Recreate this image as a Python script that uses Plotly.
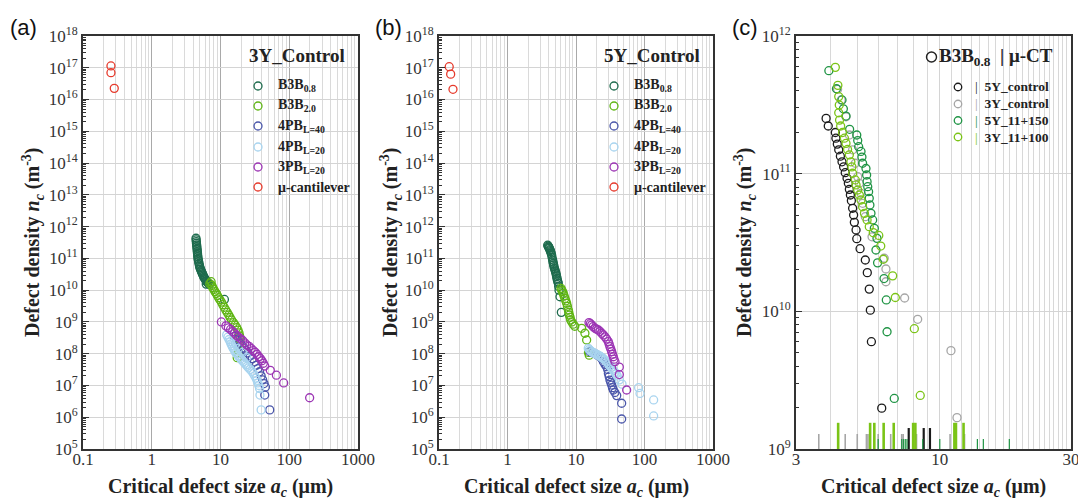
import math
import plotly.graph_objects as go

W, H = 1078, 500

# ---------------- panel (a): 3Y_Control ----------------
a_b3b08_x = [4.40, 4.42, 4.45, 4.47, 4.50, 4.52, 4.55, 4.58, 4.60, 4.63, 4.65, 4.68, 4.71, 4.76,
             4.81, 4.86, 4.92, 4.97, 5.03, 5.11, 5.20, 5.29, 5.38, 5.47, 5.57, 5.66, 5.75, 5.88,
             6.02, 6.15, 6.29, 6.43, 6.58, 6.88, 6.20, 11.4]
a_b3b08_y = [4.3e11, 3.8e11, 3.36e11, 3.0e11, 2.64e11, 2.35e11, 2.07e11, 1.84e11, 1.63e11, 1.45e11,
             1.28e11, 1.13e11, 1.0e11, 8.9e10, 7.9e10, 7.0e10, 6.2e10, 5.6e10, 5.1e10, 4.6e10,
             4.2e10, 3.85e10, 3.55e10, 3.25e10, 3.0e10, 2.75e10, 2.5e10, 2.35e10, 2.19e10, 2.0e10,
             1.89e10, 1.78e10, 1.68e10, 1.52e10, 1.55e10, 5.1e9]

a_b3b20_x = [7.3, 7.0, 7.5, 7.7, 8.0, 8.3, 8.7, 9.0, 9.4, 9.8, 10.3, 10.8, 11.3, 11.9, 12.5, 13.2,
             13.8, 14.5, 15.4, 16.3, 17.2, 18.0, 18.6, 19.0, 19.2, 19.0, 18.6, 18.2, 17.5]
a_b3b20_y = [1.85e10, 1.6e10, 1.4e10, 1.2e10, 1.05e10, 9.0e9, 7.8e9, 6.8e9, 5.8e9, 5.0e9, 4.2e9,
             3.5e9, 2.9e9, 2.4e9, 2.0e9, 1.65e9, 1.38e9, 1.15e9, 9.5e8, 8.0e8, 6.6e8, 5.5e8, 4.5e8,
             3.6e8, 2.8e8, 2.1e8, 1.5e8, 1.05e8, 7.5e7]

a_4pb40_x = [16, 17.5, 19, 20.5, 22, 23.5, 25, 27, 29, 31, 33, 35, 37, 39, 41, 43, 45, 44, 52]
a_4pb40_y = [3.5e8, 2.8e8, 2.2e8, 1.8e8, 1.5e8, 1.25e8, 1.05e8, 8.5e7, 7.0e7, 5.5e7, 4.3e7, 3.4e7,
             2.7e7, 2.0e7, 1.5e7, 1.15e7, 9.0e6, 5.0e6, 1.7e6]

a_4pb20_x = [12.3, 12.8, 13.3, 13.8, 14.2, 14.6, 15.0, 15.5, 16.0, 16.6, 17.2, 18.0, 18.8, 19.6,
             20.5, 21.5, 22.5, 23.5, 24.5, 25.5, 27, 28.5, 30, 31.5, 33, 34, 35, 36, 37, 37.5, 39,
             16.5, 18.5, 21, 24]
a_4pb20_y = [3.9e8, 3.3e8, 2.8e8, 2.4e8, 2.05e8, 1.8e8, 1.6e8, 1.4e8, 1.25e8, 1.1e8, 9.8e7, 8.7e7,
             7.7e7, 6.9e7, 6.2e7, 5.6e7, 5.0e7, 4.5e7, 4.0e7, 3.6e7, 3.2e7, 2.8e7, 2.4e7, 2.0e7,
             1.7e7, 1.45e7, 1.2e7, 1.0e7, 8.0e6, 5.0e6, 1.7e6, 2.0e8, 1.5e8, 1.1e8, 7.5e7]

a_3pb20_x = [10.3, 12.0, 13.0, 14.0, 15.0, 16.0, 17.0, 18.0, 19.5, 21, 22.5, 24, 26, 28, 30, 32,
             34, 36, 38, 40, 42, 44, 53, 65, 83, 198]
a_3pb20_y = [1.0e9, 7.5e8, 6.5e8, 5.8e8, 5.0e8, 4.4e8, 3.8e8, 3.4e8, 3.0e8, 2.6e8, 2.2e8, 1.9e8,
             1.7e8, 1.45e8, 1.25e8, 1.1e8, 9.5e7, 8.0e7, 7.0e7, 6.0e7, 5.0e7, 4.1e7, 3.0e7, 2.1e7,
             1.2e7, 4.1e6]

a_cant_x = [0.255, 0.255, 0.285]
a_cant_y = [1.14e17, 7.0e16, 2.25e16]

# ---------------- panel (b): 5Y_Control ----------------
b_b3b08_x = [3.86, 3.92, 3.97, 4.03, 4.08, 4.15, 4.21, 4.27, 4.34, 4.41, 4.48, 4.56, 4.61, 4.67,
             4.72, 4.77, 4.85, 4.94, 5.02, 5.10, 5.16, 5.22, 5.28, 5.34, 5.43, 5.52, 5.58, 5.65,
             5.84, 6.11]
b_b3b08_y = [2.6e11, 2.45e11, 2.3e11, 2.2e11, 2.07e11, 1.9e11, 1.75e11, 1.63e11, 1.45e11, 1.28e11,
             1.07e11, 8.9e10, 7.8e10, 6.9e10, 6.2e10, 5.5e10, 4.8e10, 4.3e10, 3.8e10, 3.4e10,
             3.0e10, 2.66e10, 2.35e10, 2.09e10, 1.85e10, 1.64e10, 1.3e10, 1.0e10, 6.2e9, 2.0e9]

b_b3b20_x = [6.04, 6.2, 6.35, 6.53, 6.7, 6.9, 7.1, 7.31, 7.5, 7.73, 7.85, 8.0, 8.2, 8.36, 8.7,
             9.1, 9.6, 12.1, 13.5, 14.3, 15.6, 15.2]
b_b3b20_y = [1.14e10, 1.0e10, 9.0e9, 7.9e9, 6.6e9, 5.5e9, 4.6e9, 3.85e9, 3.1e9, 2.37e9, 2.0e9,
             1.65e9, 1.4e9, 1.15e9, 1.0e9, 8.5e8, 7.3e8, 6.3e8, 4.4e8, 2.7e8, 9.0e7, 1.1e8]

b_4pb40_x = [16.0, 17.5, 19.0, 20.5, 22.4, 23.8, 25.1, 26.5, 28.0, 29.0, 29.7, 30.5, 31.3, 32.2,
             33.2, 34.1, 35.1, 37.0, 39.3, 46.4, 46.4]
b_4pb40_y = [1.16e8, 1.08e8, 1.0e8, 9.0e7, 8.0e7, 7.0e7, 5.6e7, 4.6e7, 3.9e7, 3.2e7, 2.4e7, 1.9e7,
             1.48e7, 1.25e7, 1.03e7, 8.5e6, 7.2e6, 6.0e6, 4.8e6, 2.75e6, 8.8e5]

b_4pb20_x = [15.1, 15.6, 16.2, 17.0, 17.5, 18.3, 19.0, 20.0, 21.0, 22.0, 23.0, 24.0, 25.0, 26.5,
             28.0, 29.5, 31.0, 32.5, 34.0, 35.5, 37.0, 38.5, 40.0, 43.0, 47.0, 82.0, 86.0, 136.0,
             136.0]
b_4pb20_y = [1.47e8, 1.35e8, 1.25e8, 1.15e8, 1.1e8, 1.05e8, 1.0e8, 9.5e7, 9.0e7, 8.5e7, 8.0e7,
             7.5e7, 7.0e7, 6.2e7, 5.5e7, 4.8e7, 4.2e7, 3.7e7, 3.3e7, 2.9e7, 2.6e7, 2.3e7, 2.0e7,
             1.5e7, 1.1e7, 8.5e6, 5.6e6, 3.5e6, 1.1e6]

b_3pb20_x = [15.5, 16.2, 16.9, 17.8, 18.9, 20.0, 21.2, 22.4, 23.7, 25.0, 26.5, 28.0, 29.6, 30.5,
             31.3, 32.2, 33.2, 34.1, 35.1, 35.9, 37.1, 42.9, 42.9, 54.9]
b_3pb20_y = [9.5e8, 8.8e8, 8.0e8, 7.1e8, 6.3e8, 5.9e8, 5.6e8, 5.0e8, 4.4e8, 3.9e8, 3.4e8, 2.9e8,
             2.4e8, 2.0e8, 1.66e8, 1.4e8, 1.16e8, 9.6e7, 8.0e7, 6.7e7, 5.6e7, 3.8e7, 2.2e7, 7.2e6]

b_cant_x = [0.141, 0.148, 0.160]
b_cant_y = [1.08e17, 6.3e16, 2.1e16]

# ---------------- panel (c): B3B0.8 vs micro-CT ----------------
c_5y_ctrl_x = [3.86, 3.93, 4.17, 4.19, 4.24, 4.29, 4.35, 4.41, 4.47, 4.53, 4.60, 4.65, 4.69, 4.73,
               4.77, 4.82, 4.86, 4.89, 4.96, 4.99, 5.13, 5.36, 5.45, 5.54, 5.59, 5.64, 6.15]
c_5y_ctrl_y = [2.52e11, 2.22e11, 1.99e11, 1.81e11, 1.64e11, 1.49e11, 1.34e11, 1.22e11, 1.12e11,
               1.016e11, 9.25e10, 8.51e10, 7.69e10, 7.0e10, 6.37e10, 5.6e10, 5.01e10, 4.43e10,
               3.9e10, 3.37e10, 2.85e10, 2.36e10, 1.91e10, 1.45e10, 1.02e10, 6.02e9, 1.98e9]

c_3y_ctrl_x = [4.25, 4.38, 4.56, 4.69, 4.82, 4.93, 5.03, 5.10, 5.17, 5.24, 5.36, 5.67, 6.28, 6.37,
               6.37, 7.45, 8.31, 10.98, 11.55]
c_3y_ctrl_y = [4.10e11, 3.43e11, 2.59e11, 1.91e11, 1.49e11, 1.19e11, 9.51e10, 8.51e10, 7.20e10,
               6.09e10, 4.87e10, 3.48e10, 2.43e10, 2.03e10, 1.64e10, 1.25e10, 8.75e9, 5.18e9, 1.69e9]

c_5y_150_x = [3.95, 4.21, 4.41, 4.46, 4.56, 4.70, 4.99, 5.03, 5.07, 5.17, 5.21, 5.24, 5.39, 5.42,
              5.44, 5.47, 5.51, 5.54, 5.57, 5.62, 5.70, 5.78, 5.91, 5.86, 5.94, 6.27, 6.39, 6.43, 6.83]
c_5y_150_y = [5.60e11, 4.14e11, 3.43e11, 2.96e11, 2.62e11, 2.10e11, 1.91e11, 1.74e11, 1.57e11,
              1.45e11, 1.32e11, 1.19e11, 1.09e11, 9.78e10, 8.75e10, 8.04e10, 7.40e10, 6.62e10,
              5.92e10, 5.15e10, 4.61e10, 4.01e10, 3.39e10, 2.79e10, 2.25e10, 1.73e10, 1.21e10,
              7.11e9, 2.33e9]

c_3y_100_x = [4.17, 4.26, 4.29, 4.31, 4.29, 4.32, 4.36, 4.43, 4.50, 4.56, 4.62, 4.69, 4.75, 4.79,
              4.82, 4.93, 4.96, 5.03, 5.10, 5.17, 5.24, 5.32, 5.44, 5.54, 5.73, 6.00, 6.10, 6.23,
              6.74, 6.89, 8.08, 8.49]
c_3y_100_y = [5.92e11, 4.38e11, 3.63e11, 3.15e11, 2.77e11, 2.45e11, 2.22e11, 1.99e11, 1.81e11,
              1.66e11, 1.50e11, 1.37e11, 1.22e11, 1.12e11, 1.007e11, 9.0e10, 8.28e10, 7.61e10,
              7.0e10, 6.44e10, 5.75e10, 5.15e10, 4.61e10, 4.12e10, 3.73e10, 3.56e10, 2.98e10,
              2.39e10, 1.81e10, 1.26e10, 7.48e9, 2.45e9]

# micro-CT defect sizes (rug marks along the bottom of panel c)
ct_5y_ctrl = [7.71, 8.74, 9.21]
ct_3y_ctrl = [3.63, 4.53, 5.01, 5.41, 5.48, 5.97, 6.63, 7.27, 7.36, 8.23, 10.9, 12.3]
ct_5y_150 = [5.97, 7.27, 7.38, 7.49, 7.60, 8.67, 10.0, 13.7, 14.4, 17.9]
ct_3y_100 = [4.27, 5.58, 5.78, 6.25, 6.80, 8.00, 8.15, 11.3, 11.45, 12.2]

# tick labels
x_ab_ticks = [0.1, 1, 10, 100, 1000]
x_ab_labels = ["0.1", "1", "10", "100", "1000"]
x_c_ticks = [3, 10, 30]
x_c_labels = ["3", "10", "30"]

# ---------------- styling ----------------
SERIF = "Liberation Serif, Times New Roman, serif"
SANS = "Liberation Sans, Arial, sans-serif"
C_B3B08 = "#1e6b4d"
C_B3B20 = "#5fb514"
C_4PB40 = "#4a56aa"
C_4PB20 = "#a8d4ef"
C_3PB20 = "#9c35b4"
C_CANT = "#e63a2c"
C_5YC = "#1a1a1a"
C_3YC = "#a6a6a6"
C_5Y150 = "#1f9444"
C_3Y100 = "#7bc417"

AX_LINE = "#333333"


def fx(px):
    return px / W


def fy(py):
    return 1 - py / H


fig = go.Figure()


def add_points(x, y, color, xa, ya, size=8):
    fig.add_trace(go.Scatter(
        x=x, y=y, mode="markers", xaxis=xa, yaxis=ya, showlegend=False,
        marker=dict(symbol="circle-open", size=size, color=color, line=dict(width=1.3)),
        cliponaxis=False,
    ))


for xa, ya, series in [
    ("x", "y", [(a_b3b08_x, a_b3b08_y, C_B3B08), (a_b3b20_x, a_b3b20_y, C_B3B20),
                (a_4pb40_x, a_4pb40_y, C_4PB40), (a_4pb20_x, a_4pb20_y, C_4PB20),
                (a_3pb20_x, a_3pb20_y, C_3PB20), (a_cant_x, a_cant_y, C_CANT)]),
    ("x2", "y2", [(b_b3b08_x, b_b3b08_y, C_B3B08), (b_b3b20_x, b_b3b20_y, C_B3B20),
                  (b_4pb40_x, b_4pb40_y, C_4PB40), (b_4pb20_x, b_4pb20_y, C_4PB20),
                  (b_3pb20_x, b_3pb20_y, C_3PB20), (b_cant_x, b_cant_y, C_CANT)]),
]:
    for sx, sy, col in series:
        add_points(sx, sy, col, xa, ya)

# rug marks for the micro-CT sizes: (values, color, line width, top of mark)
rugs = [
    (ct_3y_ctrl, C_3YC, 1.6, 1.285e9),
    (ct_3y_100, C_3Y100, 2.6, 1.55e9),
    (ct_5y_ctrl, C_5YC, 2.2, 1.42e9),
    (ct_5y_150, C_5Y150, 1.2, 1.18e9),
]
for vals, col, lw, top in rugs:
    xs, ys = [], []
    for v in vals:
        xs += [v, v, None]
        ys += [1e9, top, None]
    fig.add_trace(go.Scatter(x=xs, y=ys, mode="lines", xaxis="x3", yaxis="y3",
                             line=dict(color=col, width=lw), showlegend=False))

for sx, sy, col in [(c_5y_ctrl_x, c_5y_ctrl_y, C_5YC), (c_3y_ctrl_x, c_3y_ctrl_y, C_3YC),
                    (c_5y_150_x, c_5y_150_y, C_5Y150), (c_3y_100_x, c_3y_100_y, C_3Y100)]:
    add_points(sx, sy, col, "x3", "y3")

# empty carriers so the label-only x axes get drawn
for xa, ya in [("x4", "y"), ("x5", "y2"), ("x6", "y3")]:
    fig.add_trace(go.Scatter(x=[None], y=[None], mode="markers", xaxis=xa, yaxis=ya,
                             showlegend=False, hoverinfo="skip"))

# ---------------- axes ----------------
tickfont = dict(family=SERIF, size=17, color=AX_LINE)
frame = dict(showline=True, linecolor=AX_LINE, linewidth=2, mirror=True, zeroline=False,
             automargin=False)

x_ab_minor = [m * 10.0 ** e for e in range(-1, 3) for m in range(2, 10)]
y_ab_minor = [m * 10.0 ** e for e in range(5, 18) for m in range(2, 10)]
x_c_minor = [v for v in range(4, 30) if v != 10]
y_c_minor = [m * 10.0 ** e for e in range(9, 12) for m in range(2, 10)]

Y_DOM = [fy(449), fy(36)]
X_AB_RANGE = [-1, 3]
X_C_RANGE = [math.log10(3), math.log10(30)]
DOM_A = [fx(83), fx(358)]
DOM_B = [fx(439), fx(713)]
DOM_C = [fx(796), fx(1071)]


def xgrid(dom, anchor, rng, vals, minor_vals, major_col, minor_col):
    # grid-only x axis carrying the data; its labels are drawn by a companion axis
    return dict(type="log", range=rng, domain=dom, anchor=anchor,
                tickmode="array", tickvals=vals,
                showticklabels=False, showgrid=True, gridcolor=major_col, gridwidth=1, ticks="",
                minor=dict(tickmode="array", tickvals=minor_vals, showgrid=True,
                           gridcolor=minor_col, gridwidth=1, ticks=""),
                **frame)


def xlabels(dom, overlay, rng, vals, labels):
    # label-only axis sitting just under the frame
    return dict(type="log", range=rng, domain=dom, anchor="free", overlaying=overlay,
                position=fy(447), tickmode="array", tickvals=vals, ticktext=labels,
                showgrid=False, showline=False, zeroline=False, ticks="",
                ticklabeloverflow="allow", tickfont=tickfont, automargin=False)


def yaxis_ab(anchor):
    return dict(type="log", range=[5, 18], domain=Y_DOM, anchor=anchor,
                tickmode="array", tickvals=[10 ** e for e in range(5, 19)],
                ticktext=[f"10<sup>{e}</sup>" for e in range(5, 19)],
                showgrid=True, gridcolor="#d4d4d4", gridwidth=1,
                ticks="inside", ticklen=6, tickwidth=1.2, tickcolor=AX_LINE,
                minor=dict(tickmode="array", tickvals=y_ab_minor, ticks="inside", ticklen=3,
                           tickwidth=1, tickcolor=AX_LINE, showgrid=False),
                tickfont=tickfont, **frame)


fig.update_layout(
    width=W, height=H,
    margin=dict(l=0, r=0, t=0, b=0, autoexpand=False),
    paper_bgcolor="white", plot_bgcolor="white",
    showlegend=False,
    xaxis=xgrid(DOM_A, "y", X_AB_RANGE, x_ab_ticks, x_ab_minor, "#a9a9a9", "#dadada"),
    yaxis=yaxis_ab("x"),
    xaxis2=xgrid(DOM_B, "y2", X_AB_RANGE, x_ab_ticks, x_ab_minor, "#a9a9a9", "#dadada"),
    yaxis2=yaxis_ab("x2"),
    xaxis3=xgrid(DOM_C, "y3", X_C_RANGE, x_c_ticks, x_c_minor, "#d4d4d4", "#d8d8d8"),
    yaxis3=dict(type="log", range=[9, 12], domain=Y_DOM, anchor="x3",
                tickmode="array", tickvals=[1e9, 1e10, 1e11, 1e12],
                ticktext=["10<sup>9</sup>", "10<sup>10</sup>", "10<sup>11</sup>", "10<sup>12</sup>"],
                showgrid=True, gridcolor="#d4d4d4", gridwidth=1,
                ticks="inside", ticklen=6, tickwidth=1.2, tickcolor=AX_LINE,
                minor=dict(tickmode="array", tickvals=y_c_minor, ticks="inside", ticklen=3,
                           tickwidth=1, tickcolor=AX_LINE, showgrid=False),
                tickfont=tickfont, **frame),
    xaxis4=xlabels(DOM_A, "x", X_AB_RANGE, x_ab_ticks, x_ab_labels),
    xaxis5=xlabels(DOM_B, "x2", X_AB_RANGE, x_ab_ticks, x_ab_labels),
    xaxis6=xlabels(DOM_C, "x3", X_C_RANGE, x_c_ticks, x_c_labels),
)

# ---------------- titles, panel letters, legends ----------------
ann = []
shapes = []

YTITLE = "<b>Defect density <i>n<sub>c</sub></i> (m<sup>-3</sup>)</b>"
XTITLE = "<b>Critical defect size <i>a<sub>c</sub></i> (μm)</b>"
for cx, ty_x in [(220, 33), (576, 391), (933, 745)]:
    ann.append(dict(text=XTITLE, x=fx(cx), y=fy(487), xref="paper", yref="paper",
                    xanchor="center", yanchor="middle", showarrow=False,
                    font=dict(family=SERIF, size=20, color="#222")))
    ann.append(dict(text=YTITLE, x=fx(ty_x), y=fy(242), xref="paper", yref="paper",
                    xanchor="center", yanchor="middle", textangle=-90, showarrow=False,
                    font=dict(family=SERIF, size=20, color="#222")))

for label, cx in [("(a)", 23), ("(b)", 388), ("(c)", 745)]:
    ann.append(dict(text=label, x=fx(cx), y=fy(27), xref="paper", yref="paper",
                    xanchor="center", yanchor="middle", showarrow=False,
                    font=dict(family=SANS, size=22, color="#111")))


def circle(cx, cy, color, d=8, width=1.3):
    r = d / 2
    shapes.append(dict(type="circle", xref="paper", yref="paper", xsizemode="pixel",
                       ysizemode="pixel", xanchor=fx(cx), yanchor=fy(cy),
                       x0=-r, x1=r, y0=-r, y1=r, line=dict(color=color, width=width)))


ab_items = [("B3B<sub>0.8</sub>", C_B3B08), ("B3B<sub>2.0</sub>", C_B3B20),
            ("4PB<sub>L=40</sub>", C_4PB40), ("4PB<sub>L=20</sub>", C_4PB20),
            ("3PB<sub>L=20</sub>", C_3PB20), ("μ-cantilever", C_CANT)]
rows_ab = [86, 106, 126, 147, 167, 187]
for title, right, mk_x, txt_x in [("3Y_Control", 347, 258, 276), ("5Y_Control", 702, 614, 632)]:
    ann.append(dict(text=f"<b>{title}</b>", x=fx(right), y=fy(56), xref="paper", yref="paper",
                    xanchor="right", yanchor="middle", showarrow=False,
                    font=dict(family=SERIF, size=19, color="#222")))
    for (lab, col), ry in zip(ab_items, rows_ab):
        circle(mk_x, ry, col)
        ann.append(dict(text=f"<b>{lab}</b>", x=fx(txt_x), y=fy(ry), xref="paper", yref="paper",
                        xanchor="left", yanchor="middle", showarrow=False,
                        font=dict(family=SERIF, size=14, color="#222")))

# panel (c) legend
circle(931.5, 57, "#222", d=10, width=1.4)
ann.append(dict(text="<b>B3B<sub>0.8</sub>  | μ-CT</b>", x=fx(937), y=fy(57), xref="paper",
                yref="paper", xanchor="left", yanchor="middle", showarrow=False,
                font=dict(family=SERIF, size=19, color="#222")))
c_items = [("5Y_control", C_5YC), ("3Y_control", C_3YC), ("5Y_11+150", C_5Y150),
           ("3Y_11+100", C_3Y100)]
for (lab, col), ry in zip(c_items, [87, 104, 120.5, 137]):
    circle(958, ry, col, d=7.5, width=1.3)
    ann.append(dict(text=f'<span style="color:{col}">|</span>&nbsp;&nbsp;<b>{lab}</b>',
                    x=fx(973), y=fy(ry), xref="paper", yref="paper", xanchor="left",
                    yanchor="middle", showarrow=False,
                    font=dict(family=SERIF, size=13.5, color="#222")))

fig.update_layout(annotations=ann, shapes=shapes)

fig.write_html("out.html")
